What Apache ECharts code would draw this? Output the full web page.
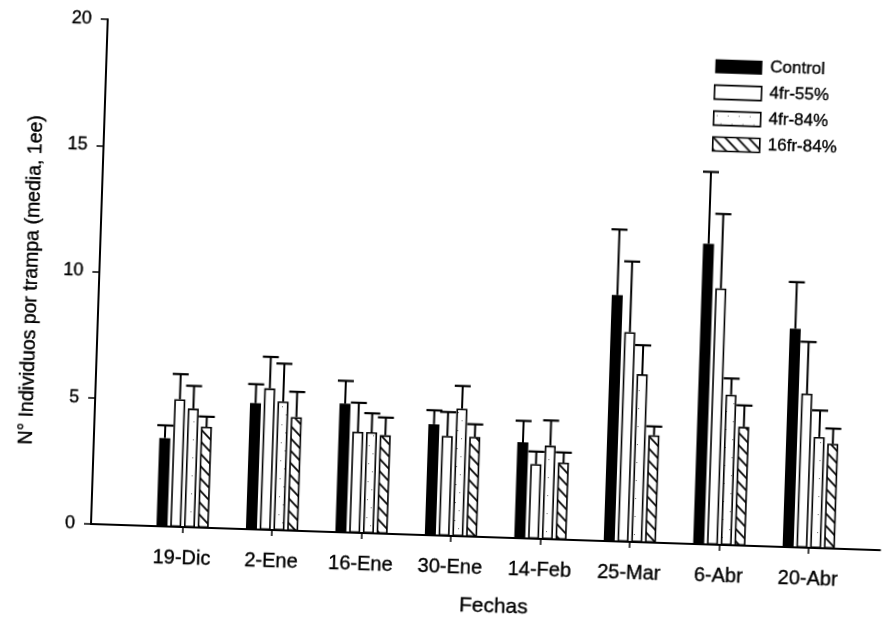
<!DOCTYPE html>
<html>
<head>
<meta charset="utf-8">
<script src="https://cdn.jsdelivr.net/npm/echarts@6/dist/echarts.min.js"></script>
<style>
  html, body { margin: 0; padding: 0; background: #fff; overflow: hidden; }
  #chart { width: 891px; height: 628px; transform: rotate(1.9deg); transform-origin: 91px 524px; }
</style>
</head>
<body>
<div id="chart"></div>
<script>
// Sampling dates
const categories = ['19-Dic', '2-Ene', '16-Ene', '30-Ene', '14-Feb', '25-Mar', '6-Abr', '20-Abr'];

// Treatments
const seriesNames = ['Control', '4fr-55%', '4fr-84%', '16fr-84%'];

// Mean individuals per trap
const control   = [3.5, 5.0, 5.1, 4.4, 3.8, 9.75, 11.9, 8.65];
const fr4p55    = [5.05, 5.6, 4.0, 3.95, 2.95, 8.3, 10.15, 6.1];
const fr4p84    = [4.7, 5.1, 4.0, 5.05, 3.7, 6.65, 5.95, 4.4];
const fr16p84   = [4.0, 4.5, 3.9, 3.95, 3.05, 4.25, 4.7, 4.15];

// One standard error
const controlErr = [0.5, 0.75, 0.9, 0.55, 0.85, 2.6, 2.85, 1.85];
const fr4p55Err  = [1.0, 1.25, 1.15, 0.95, 0.5, 2.8, 2.95, 2.05];
const fr4p84Err  = [0.9, 1.5, 0.75, 0.9, 1.0, 1.15, 0.65, 1.05];
const fr16p84Err = [0.4, 1.0, 0.7, 0.5, 0.4, 0.35, 0.85, 0.6];

// Value axis ticks
const yTicks = [0, 5, 10, 15, 20];

const FONT = "'Liberation Sans', Arial, Helvetica, sans-serif";
const INK = { textBorderColor: '#000', textBorderWidth: 0.35 };
const BAR_W = 11;
const GAP_RATIO = 0.25;
const STRIDE = BAR_W * (1 + GAP_RATIO);

function hatchPattern() {
  const s = 12;
  const c = document.createElement('canvas');
  c.width = s; c.height = s;
  const g = c.getContext('2d');
  g.fillStyle = '#fff';
  g.fillRect(0, 0, s, s);
  g.strokeStyle = '#000';
  g.lineWidth = 1.7;
  g.beginPath();
  g.moveTo(-3, -3); g.lineTo(s + 3, s + 3);
  g.moveTo(-3, s - 3); g.lineTo(3, s + 3);
  g.moveTo(s - 3, -3); g.lineTo(s + 3, 3);
  g.stroke();
  return c;
}

function dotPattern() {
  const c = document.createElement('canvas');
  c.width = 11; c.height = 18;
  const g = c.getContext('2d');
  g.fillStyle = '#fff';
  g.fillRect(0, 0, 11, 18);
  g.fillStyle = '#666';
  g.fillRect(3, 4, 1, 1);
  g.fillRect(7, 12, 1, 1);
  return c;
}

const fills = [
  '#000',
  '#fff',
  { image: dotPattern(), repeat: 'repeat' },
  { image: hatchPattern(), repeat: 'repeat' }
];

const means = [control, fr4p55, fr4p84, fr16p84];
const errs = [controlErr, fr4p55Err, fr4p84Err, fr16p84Err];

function barStyle(k) {
  return {
    color: fills[k],
    borderColor: '#000',
    borderWidth: k === 0 ? 0 : 1.6
  };
}

function errorRenderer(k) {
  return function (params, api) {
    const i = api.value(0);
    const top = api.coord([i, api.value(1)]);
    const base = api.coord([i, api.value(2)]);
    const x = top[0] + (k - 1.5) * STRIDE;
    const half = 8;
    return {
      type: 'group',
      children: [
        { type: 'line', shape: { x1: x, y1: base[1], x2: x, y2: top[1] },
          style: { stroke: '#000', lineWidth: 2 } },
        { type: 'line', shape: { x1: x - half, y1: top[1], x2: x + half, y2: top[1] },
          style: { stroke: '#000', lineWidth: 2.2 } }
      ]
    };
  };
}

const barSeries = seriesNames.map((name, k) => ({
  type: 'bar',
  name: name,
  xAxisIndex: 0,
  yAxisIndex: 0,
  data: means[k],
  barWidth: BAR_W,
  barGap: (GAP_RATIO * 100) + '%',
  itemStyle: barStyle(k),
  z: 2
}));

const errSeries = seriesNames.map((name, k) => ({
  type: 'custom',
  xAxisIndex: 0,
  yAxisIndex: 0,
  data: means[k].map((v, i) => [i, v + errs[k][i], v]),
  encode: { x: 0, y: [1, 2] },
  renderItem: errorRenderer(k),
  clip: false,
  silent: true,
  z: 3
}));

const chart = echarts.init(document.getElementById('chart'), null, { renderer: 'canvas' });

chart.setOption({
  backgroundColor: '#fff',
  animation: false,
  textStyle: { fontFamily: FONT, color: '#000' },
  grid: [
    { left: 137.85, width: 716, top: 19, bottom: 104 },
    { left: 91, right: 10.5, top: 19, bottom: 104 }
  ],
  legend: {
    orient: 'vertical',
    left: 699,
    top: 37,
    padding: 0,
    itemWidth: 47,
    itemHeight: 14,
    itemGap: 8.6,
    textStyle: Object.assign({ fontSize: 17, color: '#000', fontFamily: FONT, padding: [0, 0, 0, 3] }, INK),
    data: seriesNames.map((n, k) => ({ name: n, icon: 'rect', itemStyle: barStyle(k) }))
  },
  xAxis: [
    {
      type: 'category',
      gridIndex: 0,
      data: categories,
      name: 'Fechas',
      nameLocation: 'middle',
      nameGap: 59,
      nameTextStyle: Object.assign({ fontSize: 21, color: '#000', fontFamily: FONT }, INK),
      axisLine: { show: false },
      axisTick: { show: true, alignWithLabel: true, length: 6, lineStyle: { color: '#000', width: 1.5 } },
      axisLabel: Object.assign({ fontSize: 20, color: '#000', fontFamily: FONT, margin: 21, interval: 0 }, INK),
      splitLine: { show: false }
    },
    {
      type: 'value',
      gridIndex: 1,
      min: 0,
      max: 1,
      axisLine: { show: true, onZero: false, lineStyle: { color: '#000', width: 2 } },
      axisTick: { show: false },
      axisLabel: { show: false },
      splitLine: { show: false }
    }
  ],
  yAxis: [
    {
      type: 'value',
      gridIndex: 0,
      min: yTicks[0],
      max: yTicks[yTicks.length - 1],
      interval: yTicks[1] - yTicks[0],
      offset: 137.85 - 91,
      name: 'N° Individuos por trampa (media, 1ee)',
      nameLocation: 'middle',
      nameRotate: 90,
      nameGap: 57,
      nameTextStyle: Object.assign({ fontSize: 19.5, color: '#000', fontFamily: FONT, padding: [0, 21, 0, 0] }, INK),
      axisLine: { show: true, lineStyle: { color: '#000', width: 2 } },
      axisTick: { show: true, inside: false, length: 7, lineStyle: { color: '#000', width: 1.5 } },
      axisLabel: Object.assign({ fontSize: 18, color: '#000', fontFamily: FONT, margin: 16 }, INK),
      splitLine: { show: false }
    },
    {
      type: 'value',
      gridIndex: 1,
      show: false,
      min: 0,
      max: 1
    }
  ],
  series: barSeries.concat(errSeries)
});
</script>
</body>
</html>
